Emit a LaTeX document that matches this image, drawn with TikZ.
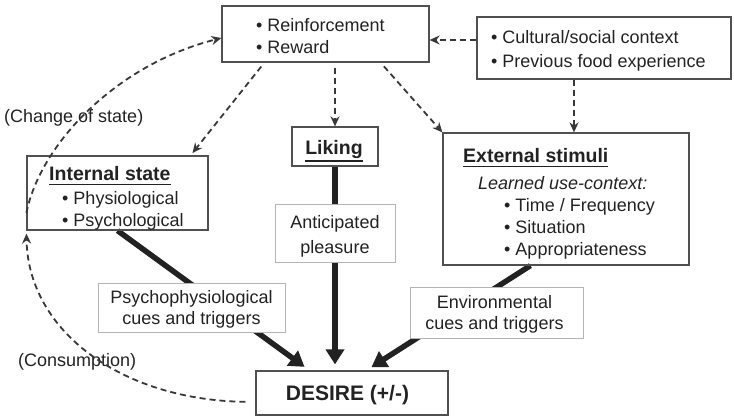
\documentclass[tikz,border=0pt]{standalone}
\usepackage{fontspec}
\setmainfont{Liberation Sans}
\usetikzlibrary{arrows.meta,calc}
\pgfdeclarelayer{bg}
\pgfsetlayers{bg,main}
\definecolor{boxc}{HTML}{505050}
\definecolor{lboxc}{HTML}{B4B4B4}
\definecolor{inkc}{HTML}{222222}
\newcommand{\ulb}[2][5pt]{\setbox0\hbox{#2}\rlap{\rule[-#1]{\wd0}{1.8pt}}\box0}
\begin{document}
\begin{tikzpicture}[x=1pt,y=-1pt,
  font=\fontsize{18}{22}\selectfont, text=inkc,
  frame/.style={draw=boxc, line width=1.2pt, inner sep=0pt},
  lframe/.style={draw=lboxc, line width=1pt, fill=white, inner sep=0pt},
  txt/.style={inner sep=0pt, align=left},
  ctxt/.style={inner sep=0pt, align=center},
  dasharrow/.style={draw=inkc!90!white, line width=1.8pt, dash pattern=on 6pt off 4pt, -{Stealth[length=10pt,width=9pt]}},
  bigarrow/.style={draw=inkc, line width=5.5pt, -{Triangle[length=15pt,width=18pt]}}]

\useasboundingbox (0,0) rectangle (734,420);

% boxes
\node[frame, minimum width=207pt, minimum height=56pt] (reinf) at (325.5,34) {};
\node[frame, minimum width=254pt, minimum height=62pt] (cult) at (604,48) {};
\node[frame, minimum width=86pt, minimum height=39pt] (liking) at (335,146.5) {};
\node[frame, minimum width=181pt, minimum height=74pt] (internal) at (117.5,193) {};
\node[frame, minimum width=246pt, minimum height=132pt] (ext) at (566,199) {};
\node[lframe, minimum width=120pt, minimum height=58pt] (antic) at (335,233) {};
\node[lframe, minimum width=187pt, minimum height=49pt] (psycho) at (191.5,307.5) {};
\node[lframe, minimum width=173pt, minimum height=51pt] (env) at (496.5,312.5) {};
\node[frame, minimum width=192pt, minimum height=44pt] (desire) at (352,393) {};

% texts
\node[txt, anchor=north west] (reinf-t) at (256,18.5) {• Reinforcement\\• Reward};
\node[txt, anchor=north west, font=\fontsize{18}{24}\selectfont] (cult-t) at (491,30.5) {• Cultural/social context\\• Previous food experience};
\node[ctxt, anchor=base] (liking-t) at (334,154) {\ulb[8pt]{\bfseries\fontsize{19.5}{22}\selectfont Liking}};
\node[txt, anchor=north west] (internal-t) at (49,166) {\ulb{\bfseries\fontsize{19.5}{22}\selectfont Internal state}\\[2pt]\hspace*{13pt}• Physiological\\\hspace*{13pt}• Psychological};
\node[txt, anchor=north west] (ext-t) at (463,148) {\ulb{\bfseries\fontsize{19.5}{22}\selectfont External stimuli}\\[5pt]\hspace*{15pt}\textit{Learned use-context:}\\\hspace*{41pt}• Time / Frequency\\\hspace*{41pt}• Situation\\\hspace*{41pt}• Appropriateness};
\node[ctxt, anchor=north, font=\fontsize{18}{25}\selectfont] (antic-t) at (335,215.5) {Anticipated\\pleasure};
\node[ctxt, anchor=north, font=\fontsize{18}{21}\selectfont] (psycho-t) at (191.5,290) {Psychophysiological\\cues and triggers};
\node[ctxt, anchor=north, font=\fontsize{18}{21}\selectfont] (env-t) at (494.5,295.5) {Environmental\\cues and triggers};
\node[ctxt, anchor=base] (desire-t) at (347.5,400) {\bfseries\fontsize{21}{24}\selectfont DESIRE (+/-)};
\node[txt, anchor=west] (cs) at (4,118) {(Change of state)};
\node[txt, anchor=west] (cons) at (18,362) {(Consumption)};

% thick arrows
\begin{pgfonlayer}{bg}
\draw[bigarrow, shorten >=6pt] (internal.south) -- ($(desire.north west)+(54,0)$);
\draw[bigarrow, shorten >=6pt] (liking.south) -- (liking.south |- desire.north);
\draw[bigarrow, shorten >=6pt] ($(ext.south west)+(88,0)$) -- ($(desire.north west)+(111,0)$);
\end{pgfonlayer}

% dashed arrows
\draw[dasharrow] ($(cult.west)+(0,-8)$) -- ($(reinf.east)+(0,6)$);
\coordinate (c1) at ($(cult.south)+(-30,0)$);
\draw[dasharrow] (c1) -- (c1 |- ext.north);
\draw[dasharrow, shorten <=5pt, shorten >=3pt] ($(reinf.south west)+(43,0)$) -- ($(internal.north east)+(-18,0)$);
\draw[dasharrow, shorten <=5pt] (reinf.south -| liking.north) -- (liking.north);
\draw[dasharrow, shorten <=5pt] ($(reinf.south east)+(-49,0)$) -- (ext.north west);
\draw[dasharrow] ($(internal.west)+(0,20)$) .. controls (40,145) and (115,65) .. ($(reinf.west)+(0,4)$);
\draw[dasharrow, shorten <=10pt, shorten >=3pt] ($(desire.west)+(0,9)$) .. controls (120,400) and (28,330) .. (internal.south west);
\end{tikzpicture}
\end{document}
